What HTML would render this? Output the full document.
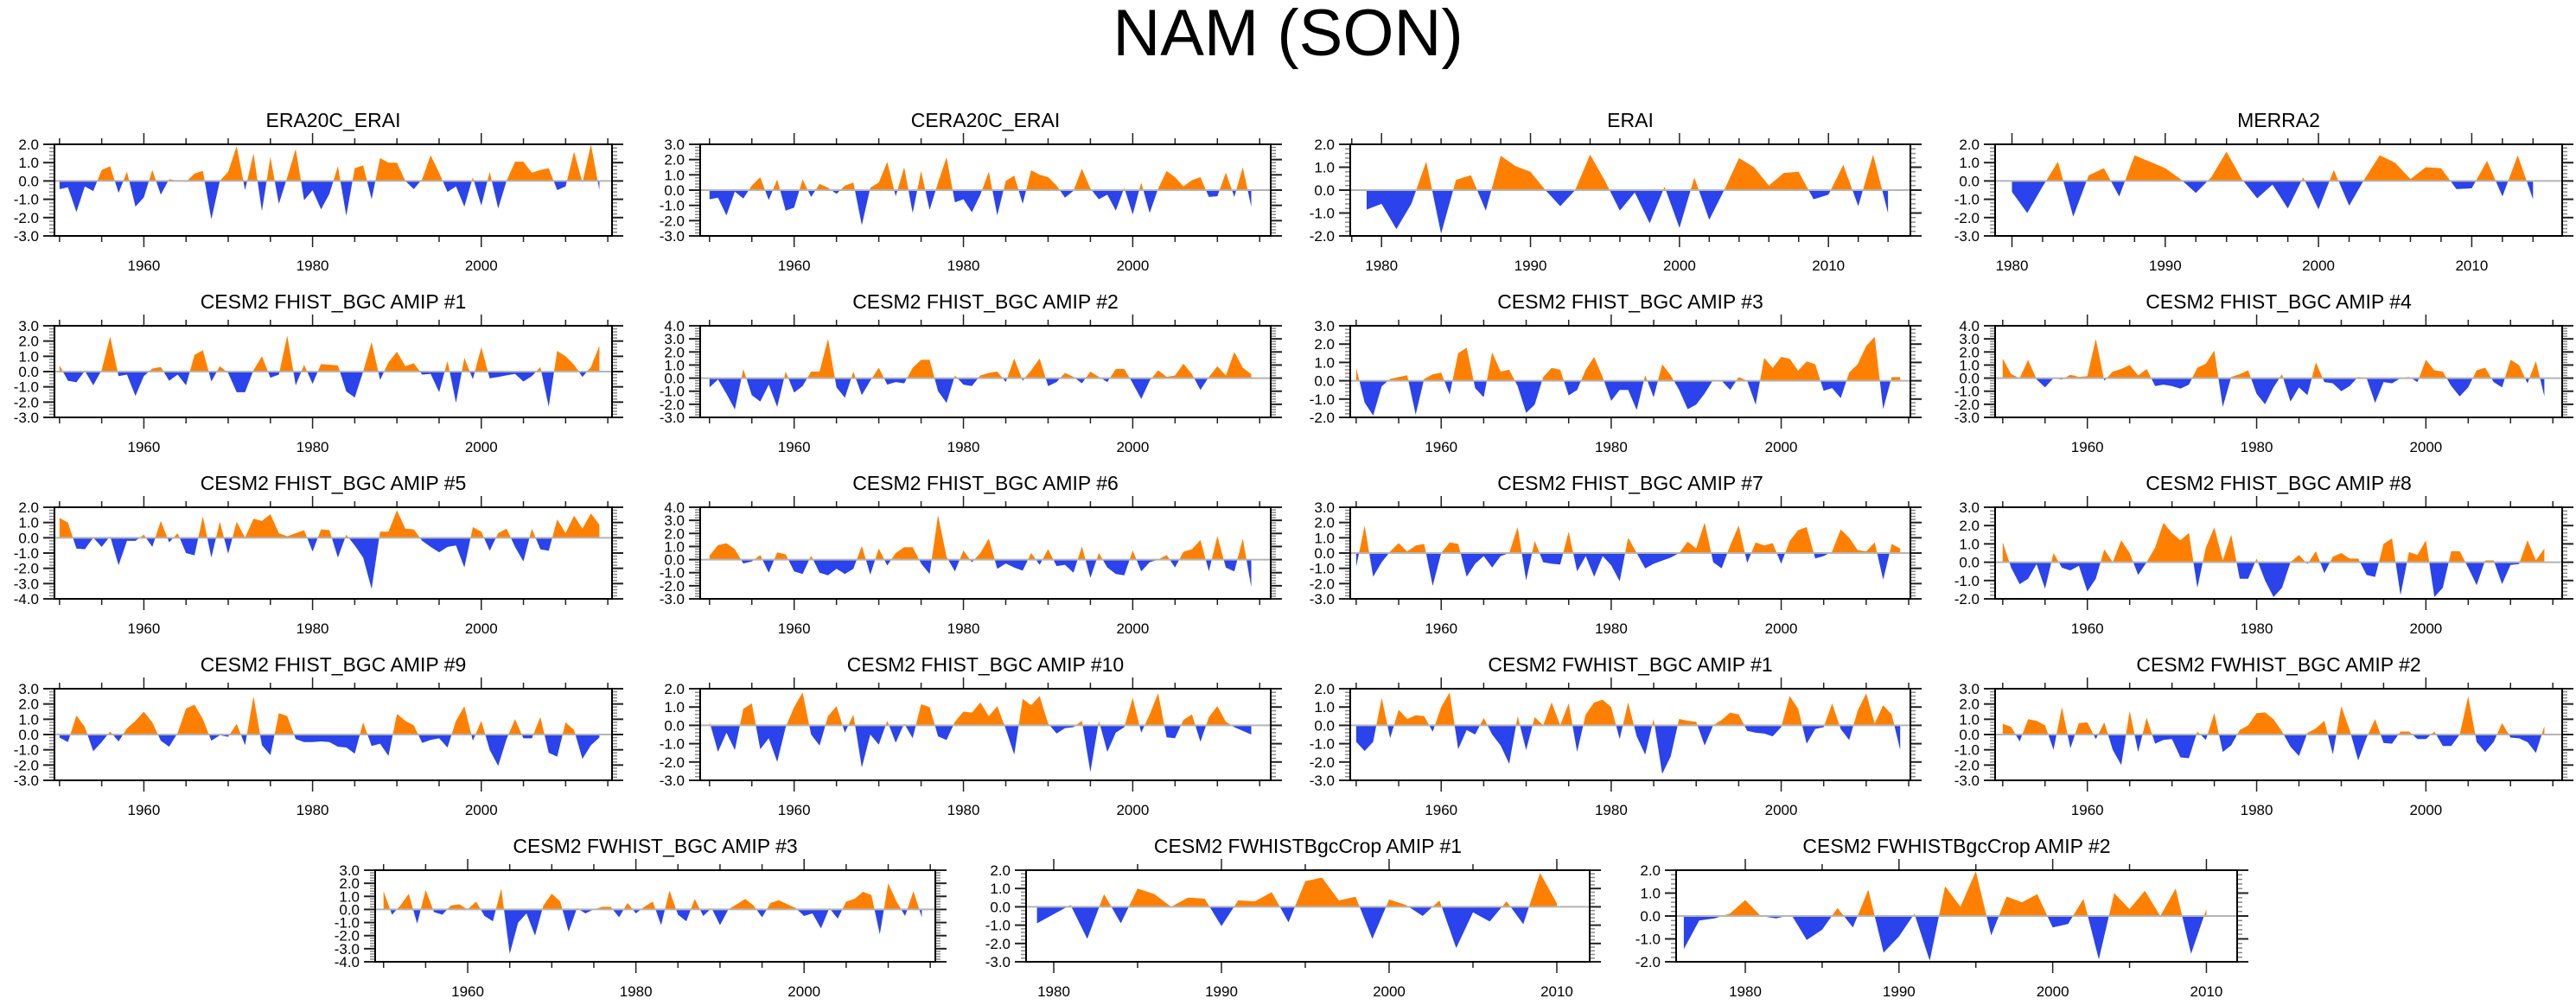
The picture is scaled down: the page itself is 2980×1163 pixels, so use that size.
<!DOCTYPE html>
<html><head><meta charset="utf-8"><title>NAM (SON)</title>
<style>
html,body{margin:0;padding:0;background:#fff;}
svg{display:block;font-family:"Liberation Sans",Arial,sans-serif;}
</style></head>
<body>
<svg id="chart" width="2980" height="1163" viewBox="0 0 2980 1163" xmlns="http://www.w3.org/2000/svg">
<rect width="2980" height="1163" fill="#fff"/>
<text x="1490" y="64" text-anchor="middle" font-size="76" fill="#000">NAM (SON)</text>
</svg>
<script>
// ---- data (one value per year) ----
const vEra20c = [-0.45,-0.35,-1.7,-0.3,-0.55,0.6,0.8,-0.65,0.5,-1.4,-0.9,0.6,-0.75,0.1,0.0,-0.05,0.4,0.55,-2.1,0.0,0.5,1.9,-0.5,1.5,-1.65,1.3,-1.25,0.2,1.75,-1.05,-0.5,-1.55,-0.7,0.8,-1.9,0.7,0.85,-1.0,1.25,1.0,1.0,0.0,-0.45,0.1,1.4,0.45,-0.6,-0.3,-1.4,0.2,-1.35,0.5,-1.5,0.0,1.05,1.05,0.45,0.6,0.7,-0.5,-0.3,1.6,-0.1,2.0,-0.5];
const vCera20c = [-0.6,-0.5,-1.65,-0.1,-0.55,0.3,0.85,-0.65,0.7,-1.35,-1.15,0.7,-0.45,0.4,0.15,-0.25,0.3,0.5,-2.3,0.15,0.5,1.85,-0.4,1.5,-1.5,1.25,-1.3,0.5,2.15,-0.8,-0.6,-1.45,-0.3,1.2,-1.65,0.6,0.95,-0.9,1.3,1.0,0.85,0.3,-0.5,-0.05,1.4,0.1,-0.6,-0.3,-1.35,0.15,-1.6,0.5,-1.5,0.1,1.25,0.85,0.25,0.65,0.85,-0.45,-0.4,1.15,-0.45,1.5,-1.1];
const vErai = [-0.85,-0.6,-1.7,-0.6,1.25,-1.9,0.45,0.65,-0.9,1.5,1.05,0.8,0.0,-0.7,0.0,1.55,0.4,-0.9,-0.1,-1.45,0.15,-1.65,0.55,-1.3,0.0,1.4,1.0,0.2,0.75,0.8,-0.4,-0.2,1.1,-0.7,1.55,-1.0];
const vMerra2 = [-0.6,-1.75,-0.3,1.05,-1.95,0.3,0.7,-0.85,1.4,1.05,0.7,0.1,-0.65,0.2,1.6,0.1,-0.95,-0.2,-1.5,0.2,-1.55,0.6,-1.35,0.1,1.4,1.0,0.1,0.75,0.7,-0.45,-0.4,1.1,-0.85,1.4,-1.0];
const vFhist1 = [0.4,-0.6,-0.7,0.05,-0.9,0.1,2.3,-0.3,-0.2,-1.6,-0.3,0.2,0.3,-0.6,-0.2,-0.9,1.1,1.4,-0.65,0.35,-0.1,-1.35,-1.35,0.1,1.0,-0.4,-0.2,2.35,-0.9,0.45,-0.8,0.5,0.45,0.4,-1.3,-1.7,0.0,1.95,-0.55,0.6,1.3,0.35,0.55,-0.2,-0.15,-1.35,0.7,-2.05,0.9,-0.5,1.6,-0.45,-0.35,-0.25,-0.15,-0.65,-0.3,0.3,-2.3,1.35,1.0,0.45,-0.35,0.3,1.7];
const vFhist2 = [-0.7,-0.1,-1.2,-2.4,0.7,-1.3,-1.8,-0.5,-2.2,0.5,-1.1,-0.6,0.5,0.5,3.0,-0.7,-1.5,0.5,-1.3,-0.2,0.8,-0.5,-0.3,-0.4,0.8,1.4,1.4,-1.0,-1.9,0.2,-0.5,-0.6,0.2,0.4,0.5,-0.3,1.5,-0.2,0.6,1.5,-0.6,-0.3,0.4,0.1,-0.4,0.5,0.1,-0.3,0.7,0.7,-0.4,-1.6,-0.2,0.6,0.1,0.2,1.1,0.3,-0.9,0.1,0.9,0.2,2.0,0.8,0.3];
const vFhist3 = [0.7,-1.2,-1.9,-0.3,0.1,0.2,0.3,-1.85,0.1,0.35,0.45,-0.75,1.5,1.8,-0.4,-0.9,1.55,0.5,0.6,-0.3,-1.75,-1.3,0.2,0.7,0.6,-0.8,-0.5,0.6,1.3,0.2,-1.1,-0.5,-0.5,-1.6,0.3,-0.9,0.9,0.3,-0.5,-1.55,-1.3,-0.7,0.05,0.0,-0.5,0.2,0.0,-1.3,1.25,0.7,1.3,1.2,0.55,1.05,0.9,-0.55,-0.4,-0.95,0.45,0.9,1.9,2.4,-1.55,0.2,0.2];
const vFhist4 = [1.5,0.3,0.0,1.4,-0.1,-0.7,0.0,-0.1,0.25,0.1,0.15,3.0,-0.2,0.5,0.7,1.0,0.2,0.7,-0.6,-0.5,-0.6,-0.8,-0.5,0.8,1.1,2.1,-2.2,0.1,0.3,0.6,-1.2,-2.0,-0.7,0.3,-1.8,-0.7,-1.3,1.2,-0.3,-0.4,-1.0,-0.6,0.1,0.0,-1.9,-0.3,-0.4,0.0,0.1,-0.3,1.4,0.6,0.5,-0.6,-1.4,-0.7,0.6,0.8,-0.3,-0.7,1.4,1.0,-0.4,1.3,-1.4];
const vFhist5 = [1.3,1.0,-0.7,-0.75,0.0,-0.6,0.1,-1.8,-0.2,-0.2,0.2,-0.6,1.1,-0.3,0.3,-1.0,-1.15,1.4,-1.3,1.05,-1.05,1.05,0.0,1.25,1.1,1.55,0.3,0.1,0.3,0.5,-0.9,0.55,0.5,-1.3,0.2,-0.5,-1.3,-3.35,0.4,0.4,1.8,0.6,0.55,-0.2,-0.6,-0.95,-0.6,-0.5,-1.95,0.7,0.4,-0.85,0.3,0.6,-0.6,-1.55,0.6,-0.75,-0.85,1.2,0.3,1.45,0.6,1.6,0.85];
const vFhist6 = [0.3,1.1,1.25,0.8,-0.3,-0.15,0.35,-1.0,0.55,0.4,-0.9,-1.1,0.3,-1.0,-1.2,-0.7,-1.1,-0.7,1.05,-1.15,0.85,-0.45,0.5,0.95,0.95,-0.3,-1.1,3.4,0.2,-0.9,0.7,-0.2,0.5,1.6,-0.7,-0.3,-0.6,-0.85,0.5,-0.4,0.8,-0.5,-0.4,-1.0,1.0,-1.4,0.5,-0.6,-1.1,-1.2,0.7,-0.9,-0.2,0.0,0.35,-0.6,0.6,0.8,1.5,-0.9,1.8,-0.6,-0.9,1.6,-2.1];
const vFhist7 = [-0.9,1.8,-1.55,-0.6,0.1,0.65,0.1,0.5,0.6,-2.15,0.0,0.7,0.6,-1.55,-0.7,-0.2,-0.95,-0.2,0.0,1.7,-1.8,0.8,-0.6,-0.7,-0.75,1.4,-1.2,-0.2,-1.55,-0.2,-0.8,-1.85,1.0,0.0,-1.0,-0.7,-0.5,-0.3,0.0,0.75,0.3,2.0,-0.6,-1.0,0.5,1.8,-0.65,0.7,0.5,0.65,-0.7,0.8,1.5,1.7,-0.35,-0.2,0.1,1.55,1.0,0.2,0.1,0.7,-1.75,0.6,0.3];
const vFhist8 = [1.1,-0.3,-1.2,-0.9,-0.1,-1.45,0.5,-0.3,-0.45,-0.2,-1.6,-0.9,0.7,0.0,1.2,0.5,-0.7,0.0,0.8,2.15,1.6,1.2,1.6,-1.4,0.8,1.9,0.1,1.5,-0.9,-0.9,0.2,-1.0,-1.9,-1.4,0.0,0.4,-0.1,0.6,-0.6,0.3,0.5,0.2,0.2,-0.7,-0.8,1.0,1.3,-1.8,0.55,0.4,1.2,-1.9,-1.4,0.6,0.6,-0.3,-1.25,0.1,0.1,-1.2,-0.15,-0.1,1.2,0.1,0.75];
const vFhist9 = [-0.2,-0.5,1.25,0.5,-1.1,-0.5,0.2,-0.45,0.4,0.9,1.5,0.8,-0.4,-0.8,0.1,1.7,1.95,1.0,-0.4,-0.05,-0.15,0.7,-0.7,2.5,-0.7,-1.35,1.4,1.2,-0.3,-0.5,-0.5,-0.45,-0.5,-0.8,-0.85,-1.25,0.8,-0.75,-0.6,-1.4,1.35,0.9,0.6,-0.55,-0.35,-0.25,-0.85,0.9,1.85,-0.4,0.9,-1.0,-2.05,-0.3,1.0,-0.25,-0.25,1.15,-1.2,-1.45,0.8,0.3,-1.6,-0.7,-0.2];
const vFhist10 = [0.2,-1.45,-0.4,-1.35,0.9,1.2,-1.3,-0.7,-2.0,-0.1,1.0,1.8,-0.5,-1.1,0.5,1.05,-0.4,0.6,-2.3,-0.5,-1.05,0.25,-0.95,0.1,-0.7,1.15,1.0,-0.6,-0.8,0.2,0.75,0.7,1.25,0.5,1.05,-0.2,-1.6,1.45,1.1,1.6,0.1,-0.45,-0.15,-0.1,0.25,-2.55,0.25,-1.45,-0.4,-0.1,1.5,-0.4,0.6,1.75,-0.65,-0.7,0.3,0.6,-0.9,0.45,1.05,0.2,-0.1,-0.3,-0.5];
const vFw1 = [-0.9,-1.4,-0.9,1.5,-0.7,0.85,0.35,0.55,0.5,-0.35,1.0,1.8,-1.3,-0.25,-0.5,0.4,-0.5,-1.1,-2.1,0.5,-1.35,0.45,0.0,1.25,0.0,1.2,-1.45,0.6,1.25,1.4,1.0,-0.75,1.25,-0.6,-1.6,0.35,-2.65,-1.7,0.35,0.25,0.2,-1.1,0.0,0.3,0.7,0.6,-0.3,-0.4,-0.45,-0.6,-0.1,1.6,0.9,-1.0,-0.2,-0.1,1.2,-0.2,-0.8,0.8,1.75,0.1,1.1,0.6,-1.35];
const vFw2 = [0.7,0.5,-0.45,1.0,0.9,0.6,-1.0,1.8,-0.9,0.75,0.8,-0.3,0.8,-1.0,-2.0,1.55,-1.15,1.1,-0.6,-0.35,-0.3,-1.5,-1.55,0.2,-0.35,1.4,-1.15,-0.7,0.3,0.6,1.4,1.45,1.0,0.2,-0.8,-1.4,0.1,0.4,0.9,-1.3,1.85,0.3,-1.7,-0.2,1.0,-0.55,-0.6,0.2,0.2,-0.3,-0.3,0.2,-0.75,-0.75,0.0,2.5,-0.5,-1.15,-0.5,0.75,-0.2,-0.25,-0.5,-1.2,0.55];
const vFw3 = [1.4,-0.4,0.3,1.2,-1.1,1.5,-0.2,-0.4,0.3,0.4,0.0,0.6,-0.5,-0.9,1.6,-3.4,-1.0,-0.3,-2.0,0.3,1.2,0.6,-1.7,0.1,-0.3,0.0,0.2,0.2,-0.6,0.5,-0.3,0.2,0.6,-1.2,1.45,-0.4,-0.9,0.8,-0.5,0.1,-1.2,0.0,0.4,0.8,0.3,-0.6,0.5,0.7,0.4,0.1,-0.5,-0.3,-1.45,0.1,-0.7,0.6,0.8,1.35,1.1,-1.9,2.0,0.6,-0.5,1.4,-0.6];
const vCrop1 = [-0.9,-0.4,0.1,-1.75,0.7,-0.9,1.0,0.7,0.0,0.5,0.45,-1.05,0.35,0.3,0.8,-0.85,1.4,1.6,0.35,0.55,-1.75,0.4,0.1,-0.5,0.35,-2.25,-0.3,-0.8,0.3,-0.95,1.85,0.2];
const vCrop2 = [-1.45,-0.2,-0.1,0.1,0.7,0.0,-0.1,0.05,-1.05,-0.6,0.35,-0.5,1.15,-1.6,-0.9,0.1,-1.95,1.3,0.4,1.95,-0.85,0.85,0.6,0.95,-0.5,-0.35,0.75,-1.9,1.0,0.3,1.1,0.0,1.2,-1.65,0.3];

const panelTitles = ['ERA20C_ERAI','CERA20C_ERAI','ERAI','MERRA2',
 'CESM2 FHIST_BGC AMIP #1','CESM2 FHIST_BGC AMIP #2','CESM2 FHIST_BGC AMIP #3','CESM2 FHIST_BGC AMIP #4',
 'CESM2 FHIST_BGC AMIP #5','CESM2 FHIST_BGC AMIP #6','CESM2 FHIST_BGC AMIP #7','CESM2 FHIST_BGC AMIP #8',
 'CESM2 FHIST_BGC AMIP #9','CESM2 FHIST_BGC AMIP #10','CESM2 FWHIST_BGC AMIP #1','CESM2 FWHIST_BGC AMIP #2',
 'CESM2 FWHIST_BGC AMIP #3','CESM2 FWHISTBgcCrop AMIP #1','CESM2 FWHISTBgcCrop AMIP #2'];
const panelSeries = [vEra20c,vCera20c,vErai,vMerra2,vFhist1,vFhist2,vFhist3,vFhist4,vFhist5,vFhist6,vFhist7,vFhist8,vFhist9,vFhist10,vFw1,vFw2,vFw3,vCrop1,vCrop2];
const startYears = [1950,1950,1979,1980,1950,1950,1950,1950,1950,1950,1950,1950,1950,1950,1950,1950,1950,1979,1976];
const yMins = [-3,-3,-2,-3,-3,-3,-2,-3,-4,-3,-3,-2,-3,-3,-3,-3,-4,-3,-2];
const yMaxs = [2,3,2,2,3,4,3,4,2,4,3,3,3,2,2,3,3,2,2];

// ---- layout (geometry only) ----
const rowTops=[167,377,587,797,1007];
const BOXH=106;
const colBoxes=[[63,708],[810,1470],[1562,2210],[2308,2964]];
const row5Boxes=[[434,1082],[1187,1839],[1939,2588]];
function layout(i){
  if(i<16){const r=Math.floor(i/4),c=i%4;return {top:rowTops[r],l:colBoxes[c][0],r:colBoxes[c][1]};}
  const c=i-16;return {top:rowTops[4],l:row5Boxes[c][0],r:row5Boxes[c][1]};
}
const xRanges={0:[1949.4,2015.5],1:[1948.9,2016.3],2:[1977.9,2015.5],3:[1978.9,2015.9],16:[1949.0,2015.6],17:[1978.35,2011.96],18:[1975.5,2012.0]};
function xRange(i){
  if(xRanges[i])return xRanges[i];
  const c=i%4;return [[1949.4,2015.5],[1948.9,2016.3],[1949.3,2015.2],[1949.1,2016.1]][c];
}

const NS='http://www.w3.org/2000/svg';
const svg=document.getElementById('chart');
function mk(tag,attrs,parent){const e=document.createElementNS(NS,tag);for(const k in attrs)e.setAttribute(k,attrs[k]);(parent||svg).appendChild(e);return e;}

for(let i=0;i<panelSeries.length;i++){
  const L=layout(i), top=L.top, bot=L.top+BOXH, left=L.l, right=L.r;
  const [x0,x1]=xRange(i), y0=yMins[i], y1=yMaxs[i];
  const X=v=>left+(v-x0)/(x1-x0)*(right-left);
  const Y=v=>bot-(v-y0)/(y1-y0)*(bot-top);
  const g=mk('g',{});
  
  
  const t=mk('text',{x:(left+right)/2,y:top-20,'text-anchor':'middle','font-size':23,fill:'#000'},g);
  t.textContent=panelTitles[i];
  
  
  // clip paths
  const cid='c'+i;
  const cpA=mk('clipPath',{id:cid+'a'},g); mk('rect',{x:left,y:top,width:right-left,height:Y(0)-top},cpA);
  const cpB=mk('clipPath',{id:cid+'b'},g); mk('rect',{x:left,y:Y(0),width:right-left,height:bot-Y(0)},cpB);
  const data=panelSeries[i], sy=startYears[i];
  let pts=X(sy)+','+Y(0);
  data.forEach((v,k)=>{pts+=' '+X(sy+k).toFixed(1)+','+Y(v).toFixed(1);});
  pts+=' '+X(sy+data.length-1).toFixed(1)+','+Y(0);
  const pa=mk('polygon',{points:pts,fill:'#ff8000','clip-path':'url(#'+cid+'a)'},g);
  
  
  const pb=mk('polygon',{points:pts,fill:'#2a43ec','clip-path':'url(#'+cid+'b)'},g);
  
  
  const zl=mk('line',{x1:left,x2:right,y1:Y(0),y2:Y(0),stroke:'#b4b4b4','stroke-width':2},g);
  
  
  // y ticks
  for(let v=y0;v<=y1+1e-6;v+=0.2){
    const yy=Y(v), major=Math.abs(v-Math.round(v))<1e-6;
    const len=major?13:6, col=major?'#222':'#888';
    mk('line',{x1:left-len,x2:left,y1:yy,y2:yy,stroke:col,'stroke-width':major?2:1.5},g);
    mk('line',{x1:right,x2:right+len,y1:yy,y2:yy,stroke:col,'stroke-width':major?2:1.5},g);
    if(major){
      const lt=mk('text',{x:left-18,y:yy+6,'text-anchor':'end','font-size':17,fill:'#000'},g);
      lt.textContent=Math.round(v).toFixed(1);
      
      
    }
  }
  // x ticks
  const isShort=(i===2||i===3);
  const step=isShort?2:5, labStep=(i===2||i===3||i===17||i===18)?10:20;
  const first=Math.ceil(x0/step)*step;
  for(let yr=first;yr<=x1;yr+=step){
    const xx=X(yr), lab=(yr%labStep===0)&&(labStep===10?yr>=1980:yr>=1960);
    const len=lab?13:7;
    mk('line',{x1:xx,x2:xx,y1:top-len,y2:top,stroke:'#222','stroke-width':1.5},g);
    mk('line',{x1:xx,x2:xx,y1:bot,y2:bot+len,stroke:'#222','stroke-width':1.5},g);
    if(lab){
      const xt=mk('text',{x:xx,y:bot+40,'text-anchor':'middle','font-size':17,fill:'#000'},g);
      xt.textContent=String(yr);
      
      
    }
  }
  const fr=mk('rect',{x:left,y:top,width:right-left,height:BOXH,fill:'none',stroke:'#000','stroke-width':2},g);
  
  
}
</script>
</body></html>
